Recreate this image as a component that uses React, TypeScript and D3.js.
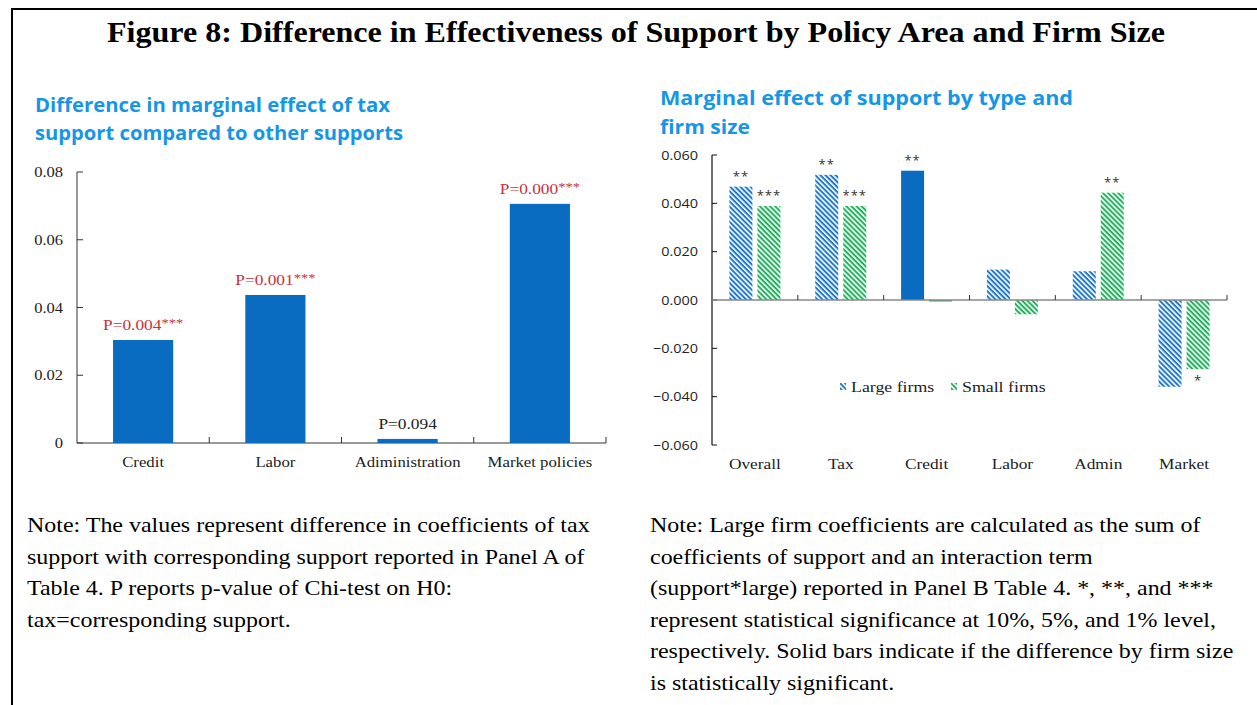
import React from "react";
import * as d3 from "d3";

const leftCategories = ["Credit", "Labor", "Adiministration", "Market policies"];
const leftValues = [0.0304, 0.0437, 0.0012, 0.0706];
const leftPLabels = ["P=0.004", "P=0.001", "P=0.094", "P=0.000"];
const leftStars = ["***", "***", "", "***"];
const leftTicks = [0, 0.02, 0.04, 0.06, 0.08];
const leftTickLabels = ["0", "0.02", "0.04", "0.06", "0.08"];

const rightCategories = ["Overall", "Tax", "Credit", "Labor", "Admin", "Market"];
const largeValues = [0.0469, 0.0518, 0.0535, 0.0126, 0.0119, -0.0359];
const smallValues = [0.0389, 0.0389, -0.0006, -0.0059, 0.0444, -0.0286];
const largeStars = ["**", "**", "**", "", "", ""];
const smallStars = ["***", "***", "", "", "**", "*"];
const largeSolid = [false, false, true, false, false, false];
const smallSolid = [false, false, false, false, false, false];
const rightTicks = [-0.06, -0.04, -0.02, 0, 0.02, 0.04, 0.06];
const seriesNames = ["Large firms", "Small firms"];

const mainTitle = "Figure 8: Difference in Effectiveness of Support by Policy Area and Firm Size";
const leftTitle = ["Difference in marginal effect of tax", "support compared to other supports"];
const rightTitle = ["Marginal effect of support by type and", "firm size"];
const leftNote = [
  "Note: The values represent difference in coefficients of tax",
  "support with corresponding support reported in Panel A of",
  "Table 4. P reports p-value of Chi-test on H0:",
  "tax=corresponding support.",
];
const rightNote = [
  "Note: Large firm coefficients are calculated as the sum of",
  "coefficients of support and an interaction term",
  "(support*large) reported in Panel B Table 4. *, **, and ***",
  "represent statistical significance at 10%, 5%, and 1% level,",
  "respectively. Solid bars indicate if the difference by firm size",
  "is statistically significant.",
];

const BLUE = "#0a6cc0";
const HATCH_BLUE = "#1f78cf";
const HATCH_GREEN = "#1fb45c";
const TITLE_BLUE = "#1696e6";
const RED = "#c8323a";
const SERIF = "'Liberation Serif', 'Times New Roman', serif";
const SANS = "'Open Sans', 'Noto Sans', sans-serif";

type STProps = {
  x: number; y: number; size: number; sx?: number; anchor?: string; fill?: string;
  family?: string; weight?: string; children?: React.ReactNode; ls?: number;
};
function ST({ x, y, size, sx = 1, anchor = "start", fill = "#222", family = SERIF, weight = "normal", children, ls }: STProps) {
  return (
    <text transform={`translate(${x},${y}) scale(${sx},1)`} textAnchor={anchor} fontFamily={family}
      fontSize={size} fontWeight={weight} fill={fill} letterSpacing={ls}>
      {children}
    </text>
  );
}

export default function App() {
  const lx = d3.scaleBand<string>().domain(leftCategories).range([77, 606]);
  const ly = d3.scaleLinear().domain([0, 0.08]).range([443, 172]);
  const lbw = lx.bandwidth() * 0.455;

  const rx = d3.scaleBand<string>().domain(rightCategories).range([712, 1227]);
  const ry = d3.scaleLinear().domain([-0.06, 0.06]).range([445, 155]);
  const rbw = 23;
  const rgap = 5;

  const fmt = d3.format(".3f");

  return (
    <div style={{ position: "fixed", left: 0, top: 0 }}>
      <svg width={1257} height={705} style={{ display: "block", background: "#fff" }}>
        <defs>
          <pattern id="hatchBlue" patternUnits="userSpaceOnUse" width={4} height={3.6} patternTransform="rotate(45)">
            <rect width={4} height={3.6} fill="#fff" />
            <rect width={4} height={2} fill={HATCH_BLUE} />
          </pattern>
          <pattern id="hatchGreen" patternUnits="userSpaceOnUse" width={4} height={3.6} patternTransform="rotate(45)">
            <rect width={4} height={3.6} fill="#fff" />
            <rect width={4} height={2} fill={HATCH_GREEN} />
          </pattern>
        </defs>

        {/* frame */}
        <line x1={12} y1={9} x2={1257} y2={9} stroke="#000" strokeWidth={2} />
        <line x1={12} y1={8} x2={12} y2={705} stroke="#000" strokeWidth={2} />

        {/* main title */}
        <text x={636} y={42} textAnchor="middle" fontFamily={SERIF} fontWeight="bold" fontSize={29.5} fill="#000"
          textLength={1058} lengthAdjust="spacingAndGlyphs">
          {mainTitle}
        </text>

        {/* Left title */}
        {leftTitle.map((t, i) => (
          <text key={i} x={35} y={112 + i * 28} fontFamily={SANS} fontWeight="bold" fontSize={19.5} fill={TITLE_BLUE}
            textLength={i === 0 ? 355 : 368} lengthAdjust="spacingAndGlyphs">
            {t}
          </text>
        ))}

        {/* Left chart axes */}
        <line x1={77} y1={ly(0.08)} x2={77} y2={ly(0)} stroke="#333" strokeWidth={1} />
        <line x1={77} y1={ly(0)} x2={606} y2={ly(0)} stroke="#333" strokeWidth={1} />
        {leftTicks.map((t, i) => (
          <g key={i}>
            <line x1={77} x2={83} y1={ly(t)} y2={ly(t)} stroke="#333" />
            <ST x={63} y={ly(t) + 5} size={15} sx={1.1} anchor="end">{leftTickLabels[i]}</ST>
          </g>
        ))}
        {leftCategories.map((c, i) => (
          <line key={"lt" + i} x1={(lx(c) as number) + lx.bandwidth()} x2={(lx(c) as number) + lx.bandwidth()}
            y1={ly(0)} y2={ly(0) - 6} stroke="#333" />
        ))}
        {leftCategories.map((c, i) => {
          const cx = (lx(c) as number) + lx.bandwidth() / 2;
          const v = leftValues[i];
          const sig = leftStars[i] !== "";
          return (
            <g key={"lb" + i}>
              <rect x={cx - lbw / 2} y={ly(v)} width={lbw} height={ly(0) - ly(v)} fill={BLUE} />
              <ST x={cx} y={ly(v) - 10} size={15.5} sx={1.12} anchor="middle" fill={sig ? RED : "#222"}>
                {leftPLabels[i]}
                {sig && <tspan fontSize={13} dy={-3}>{leftStars[i]}</tspan>}
              </ST>
              <ST x={cx} y={467} size={15.5} sx={1.08} anchor="middle">{c}</ST>
            </g>
          );
        })}

        {/* Right title */}
        {rightTitle.map((t, i) => (
          <text key={i} x={660} y={105 + i * 29} fontFamily={SANS} fontWeight="bold" fontSize={19.5} fill={TITLE_BLUE}
            textLength={i === 0 ? 413 : 90} lengthAdjust="spacingAndGlyphs">
            {t}
          </text>
        ))}

        {/* Right chart axes */}
        <line x1={712} y1={ry(0.06)} x2={712} y2={ry(-0.06)} stroke="#111" strokeWidth={1.2} />
        {rightTicks.map((t, i) => (
          <g key={i}>
            <line x1={712} x2={717} y1={ry(t)} y2={ry(t)} stroke="#111" />
            <ST x={698} y={ry(t) + 4.5} size={13.5} sx={1.07} anchor="end" family={SANS}>{fmt(t)}</ST>
          </g>
        ))}
        {rightCategories.map((c, i) => {
          const cx = (rx(c) as number) + rx.bandwidth() / 2;
          const lv = largeValues[i];
          const sv = smallValues[i];
          const lxp = cx - rgap / 2 - rbw;
          const sxp = cx + rgap / 2;
          const ly0 = Math.min(ry(lv), ry(0));
          const lh = Math.abs(ry(lv) - ry(0));
          const sy0 = Math.min(ry(sv), ry(0));
          const sh = Math.max(1.5, Math.abs(ry(sv) - ry(0)));
          const starPos = (v: number) => (v >= 0 ? ry(v) - 6 : ry(v) + 16);
          return (
            <g key={"rb" + i}>
              <rect x={lxp} y={ly0} width={rbw} height={lh}
                fill={largeSolid[i] ? BLUE : "url(#hatchBlue)"} />
              <rect x={sxp} y={sy0} width={rbw} height={sh}
                fill={smallSolid[i] ? HATCH_GREEN : (sh < 3 ? HATCH_GREEN : "url(#hatchGreen)")} />
              {largeStars[i] && (
                <ST x={lxp + rbw / 2} y={starPos(lv)} size={13} anchor="middle" family={SANS} fill="#333" ls={1}>
                  {largeStars[i]}
                </ST>
              )}
              {smallStars[i] && (
                <ST x={sxp + rbw / 2} y={starPos(sv)} size={13} anchor="middle" family={SANS} fill="#333" ls={1}>
                  {smallStars[i]}
                </ST>
              )}
              <ST x={cx} y={469} size={15.5} sx={1.12} anchor="middle">{c}</ST>
            </g>
          );
        })}
        <line x1={712} y1={ry(0)} x2={1227} y2={ry(0)} stroke="#888" strokeWidth={1.5} />
        {rightCategories.map((c, i) => (
          <line key={"rt" + i} x1={(rx(c) as number) + rx.bandwidth()} x2={(rx(c) as number) + rx.bandwidth()}
            y1={ry(0)} y2={ry(0) - 5} stroke="#333" />
        ))}

        {/* legend */}
        {seriesNames.map((n, i) => (
          <g key={"lg" + i} transform={`translate(${840 + i * 111},0)`}>
            <rect x={0} y={383} width={6} height={7} fill={i === 0 ? "url(#hatchBlue)" : "url(#hatchGreen)"} />
            <ST x={11} y={392} size={15.5} sx={1.15}>{n}</ST>
          </g>
        ))}

        {/* notes */}
        {leftNote.map((t, i) => (
          <ST key={"ln" + i} x={27} y={532 + i * 31.5} size={21.5} sx={1.115} fill="#000">{t}</ST>
        ))}
        {rightNote.map((t, i) => (
          <ST key={"rn" + i} x={650} y={532 + i * 31.5} size={21.5} sx={1.115} fill="#000">{t}</ST>
        ))}
      </svg>
    </div>
  );
}
